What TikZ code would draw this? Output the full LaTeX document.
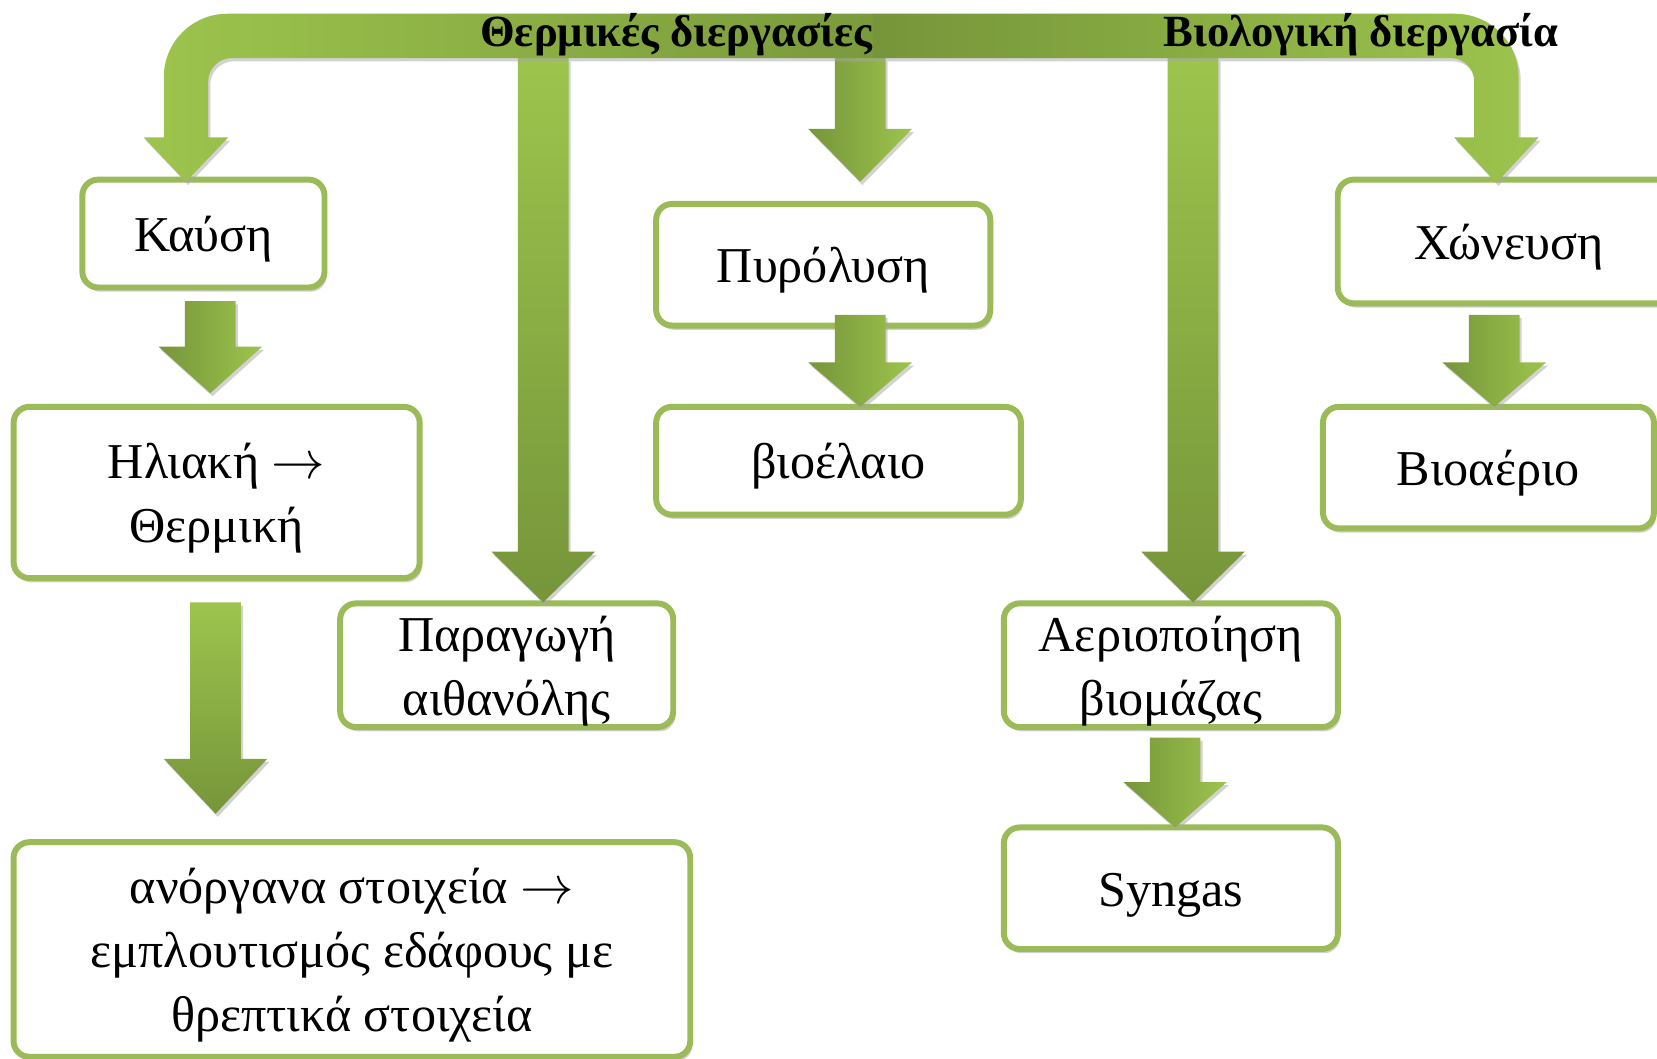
\documentclass[tikz,border=0pt]{standalone}
\usepackage{fontspec}
\setmainfont{Liberation Serif}
\usetikzlibrary{shadows}
\definecolor{boxgreen}{HTML}{9BBB59}
\definecolor{alight}{HTML}{9DC44D}
\definecolor{adark}{HTML}{76953A}
% strut that lowers the first line of a box text a little
\newcommand\firstln{\rule{0pt}{12.5pt}}
% block arrow pointing down: #1 centre x, #2 top y, #3 neck y, #4 tip y, #5 style
\newcommand\blkarrow[5]{%
  \path[arrshadow,#5] ({#1-24},#2) -- ({#1+24},#2) -- ({#1+24},#3) -- ({#1+49},#3)
    -- (#1,#4) -- ({#1-49},#3) -- ({#1-24},#3) -- cycle;}
\begin{document}
\begin{tikzpicture}[x=0.01cm,y=-0.01cm,
  box/.style={draw=boxgreen, line width=1.6pt, rounded corners=0.15cm, fill=white,
    align=center, inner sep=0pt,
    font=\fontsize{13.5}{17.2}\selectfont,
    drop shadow={shadow xshift=0.02cm, shadow yshift=-0.04cm, fill=black!30, opacity=0.6}},
  hdr/.style={font=\bfseries\fontsize{12}{14}\selectfont, inner sep=0pt, anchor=base},
  arrshadow/.style={drop shadow={shadow xshift=0.02cm, shadow yshift=-0.03cm, fill=black!35, opacity=0.5}},
  hshade/.style={left color=adark, right color=alight},
  vshade/.style={top color=alight, bottom color=adark}]
\fill[white] (0,0) rectangle (1568,1002);
\useasboundingbox (0,0) rectangle (1568,1002);

% boxes
\node[box, minimum width=2.29cm, minimum height=1.02cm] (kaush) at (192.5,221) {\firstln Καύση};
\node[box, minimum width=3.84cm, minimum height=1.62cm] (hliaki) at (205,466) {\firstln Ηλιακή $\rightarrow$\\Θερμική};
\node[box, minimum width=3.15cm, minimum height=1.17cm] (paragwgh) at (479.5,629.5) {\firstln Παραγωγή\\αιθανόλης};
\node[box, minimum width=3.16cm, minimum height=1.15cm] (pyrolysh) at (779,250.5) {\firstln Πυρόλυση};
\node[box, minimum width=3.45cm, minimum height=1.02cm] (bioelaio) at (793.5,436) {\firstln βιοέλαιο};
\node[box, minimum width=3.24cm, minimum height=1.17cm] (xwneysh) at (1428,228.5) {\firstln Χώνευση};
\node[box, minimum width=3.13cm, minimum height=1.15cm] (bioaerio) at (1408.5,442.5) {\firstln Βιοαέριο};
\node[box, minimum width=3.16cm, minimum height=1.17cm] (aerio) at (1108,629.5) {\firstln Αεριοποίηση\\βιομάζας};
\node[box, minimum width=3.16cm, minimum height=1.15cm] (syngas) at (1108,840.5) {\firstln Syngas};
\node[box, minimum width=6.40cm, minimum height=2.03cm] (anorg) at (333,898.5) {\firstln ανόργανα στοιχεία $\rightarrow$\\εμπλουτισμός εδάφους με\\θρεπτικά στοιχεία};

% long vertical arrows from the bar
\blkarrow{514}{55}{522}{570}{vshade}
\blkarrow{1129}{55}{522}{570}{vshade}
\blkarrow{814}{55}{122}{172}{hshade}

% top bar, left part
\path[arrshadow, left color=alight, right color=adark!90!alight]
  (136,130) -- (176,172) -- (216,130) -- (197,130) -- (197,77)
  .. controls (197,64.9) and (207.1,55) .. (219,55) -- (826,55) -- (826,13) -- (215,13)
  .. controls (181.9,13) and (155,39.9) .. (155,73) -- (155,130) -- cycle;
% top bar, right part
\path[arrshadow, left color=adark, right color=alight]
  (826,13) -- (1377,13) .. controls (1410.1,13) and (1437,39.9) .. (1437,73)
  -- (1437,130) -- (1456,130) -- (1416,173) -- (1376,130) -- (1395,130) -- (1395,77)
  .. controls (1395,64.9) and (1384.9,55) .. (1373,55) -- (826,55) -- cycle;

% short arrows between boxes
\blkarrow{199}{285}{328}{372}{hshade}
\blkarrow{814}{298}{343}{385}{hshade}
\blkarrow{1414}{298}{343}{385}{hshade}
\blkarrow{1112}{698}{740}{783}{hshade}
\blkarrow{204}{570}{718}{770}{vshade}

% headings on the bar
\node[hdr] (thermal) at (640,44) {Θερμικές διεργασίες};
\node[hdr] (bio) at (1288,44) {Βιολογική διεργασία};
\end{tikzpicture}
\end{document}
